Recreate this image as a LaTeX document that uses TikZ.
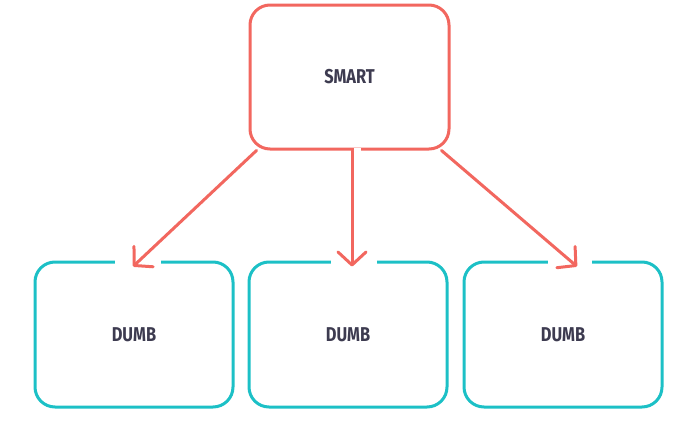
\documentclass[tikz,border=0pt]{standalone}
\usepackage{fontspec}
\newfontfamily\boxfont{Fira Sans}[FakeStretch=0.82]
\usetikzlibrary{arrows.meta,calc}
\definecolor{smartred}{HTML}{F2675F}
\definecolor{dumbteal}{HTML}{1CC0C6}
\definecolor{labelink}{HTML}{3D3B50}

\begin{document}
\begin{tikzpicture}[x=1pt,y=-1pt,
    every node/.style={font=\boxfont\bfseries\fontsize{20}{24}\selectfont,text=labelink},
    smartbox/.style={draw=smartred,line width=3pt,rounded corners=20pt,minimum width=199pt,minimum height=144pt},
    dumbbox/.style={draw=dumbteal,line width=3pt,rounded corners=20pt,minimum width=198pt,minimum height=145pt},
    feed/.style={draw=smartred,line width=3pt,line cap=round,-{Straight Barb[length=13pt,width=28pt,round]}},
    gapcut/.style={draw=white,line width=6pt}]

    \useasboundingbox (0,0) rectangle (677,431);

    % The one container and its three children
    \node[smartbox] (smart) at (349.5,77) {SMART};
    \node[dumbbox] (dumbL) at (134,334.5) {DUMB};
    \node[dumbbox] (dumbM) at (348,334.5) {DUMB};
    \node[dumbbox] (dumbR) at (563,334.5) {DUMB};

    % Open the borders where the arrows come in
    \draw[gapcut] ($(dumbL.north)+(-19,0)$) -- ++(46,0);
    \draw[gapcut] ($(dumbM.north)+(-17,0)$) -- ++(46,0);
    \draw[gapcut] ($(dumbR.north)+(-15,0)$) -- ++(44,0);
    \draw[gapcut] ($(smart.south)+(4.5,0)$) -- ++(7,0);

    % Arrow end points
    \coordinate (tipL) at ($(dumbL.north)+(-1,6)$);
    \coordinate (tipM) at ($(dumbM.north)+(4,6)$);
    \coordinate (tipR) at ($(dumbR.north)+(14,6)$);

    \draw[feed] ($(smart.south west)+(8,0)$) -- (tipL);
    \draw[feed] (smart.south -| tipM) -- (tipM);
    \draw[feed] ($(smart.south east)+(-9,0)$) -- (tipR);

\end{tikzpicture}
\end{document}
